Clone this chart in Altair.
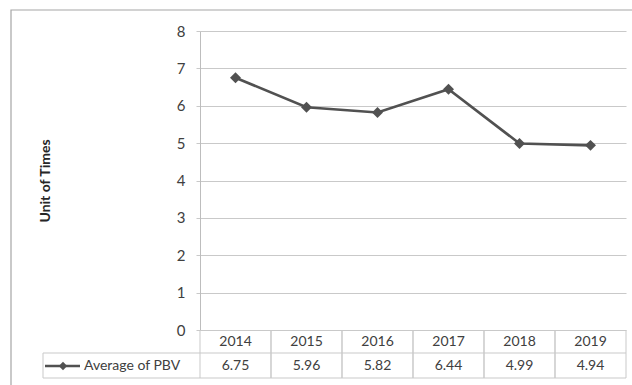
import altair as alt
import pandas as pd

years = ["2014", "2015", "2016", "2017", "2018", "2019"]
pbv = [6.75, 5.96, 5.82, 6.44, 4.99, 4.94]
series_name = "Average of PBV"
y_title = "Unit of Times"
y_ticks = [0, 1, 2, 3, 4, 5, 6, 7, 8]

df = pd.DataFrame({"year": years, "pbv": pbv, "label": [f"{v:.2f}" for v in pbv]})
one = pd.DataFrame({"k": [0]})

W, H = 426, 299
FONT = "Lato"
GRID = "#c9c9c9"
LINE = "#515151"
TXT = "#404040"

xs = alt.Scale(domain=years, paddingInner=0, paddingOuter=0)
ys = alt.Scale(domain=[0, 8], nice=False)
xenc = alt.X("year:O", scale=xs, axis=None)
yaxis = alt.Axis(
    values=y_ticks,
    title=y_title,
    titleFont=FONT,
    titleFontSize=14,
    titleFontWeight="bold",
    titleColor="#262626",
    titleX=-148,
    titleY=H / 2,
    titleAngle=270,
    labelFont=FONT,
    labelFontSize=15,
    labelColor=TXT,
    labelPadding=11,
    tickSize=4,
    tickColor=GRID,
    domainColor="#bdbdbd",
    gridColor=GRID,
    grid=True,
)
yenc = alt.Y("pbv:Q", scale=ys, axis=yaxis)

base = alt.Chart(df)

line = base.mark_line(color=LINE, strokeWidth=2.6).encode(x=xenc, y=yenc)
points = base.mark_point(shape="diamond", filled=True, color=LINE, size=120, opacity=1).encode(
    x=xenc, y=yenc
)

# outer frame
frame = alt.Chart(one).mark_rect(fill=None, stroke="#a6a6a6", strokeWidth=1.2).encode(
    x=alt.value(-189), x2=alt.value(460), y=alt.value(-21), y2=alt.value(400)
)

# table lines
vlines_l = base.mark_rule(color=GRID).encode(
    x=alt.X("year:O", scale=xs, axis=None, bandPosition=0),
    y=alt.value(H), y2=alt.value(H + 48),
)
vlines_r = base.mark_rule(color=GRID).encode(
    x=alt.X("year:O", scale=xs, axis=None, bandPosition=1),
    y=alt.value(H), y2=alt.value(H + 48),
)
h1 = alt.Chart(one).mark_rule(color=GRID).encode(
    x=alt.value(-157), x2=alt.value(W), y=alt.value(H + 23)
)
h2 = alt.Chart(one).mark_rule(color=GRID).encode(
    x=alt.value(-157), x2=alt.value(W), y=alt.value(H + 48)
)
vleft = alt.Chart(one).mark_rule(color=GRID).encode(
    x=alt.value(-157), y=alt.value(H + 23), y2=alt.value(H + 48)
)

year_txt = base.mark_text(font=FONT, fontSize=14, color=TXT, baseline="middle").encode(
    x=xenc, y=alt.value(H + 12), text="year:N"
)
val_txt = base.mark_text(font=FONT, fontSize=14, color=TXT, baseline="middle").encode(
    x=xenc, y=alt.value(H + 36), text="label:N"
)

leg_line = alt.Chart(one).mark_rule(color=LINE, strokeWidth=2.6).encode(
    x=alt.value(-155), x2=alt.value(-120), y=alt.value(H + 36)
)
leg_pt = alt.Chart(one).mark_point(shape="diamond", filled=True, color=LINE, size=70, opacity=1).encode(
    x=alt.value(-137), y=alt.value(H + 36)
)
leg_txt = alt.Chart(pd.DataFrame({"t": [series_name]})).mark_text(
    font=FONT, fontSize=14, color=TXT, align="left", baseline="middle"
).encode(x=alt.value(-116), y=alt.value(H + 36), text="t:N")

chart = (
    alt.layer(frame, line, points, vlines_l, vlines_r, h1, h2, vleft,
              year_txt, val_txt, leg_line, leg_pt, leg_txt)
    .properties(
        width=W,
        height=H,
        autosize=alt.AutoSizeParams(type="none"),
        padding={"left": 200, "top": 31, "right": 6, "bottom": 55},
        background="white",
    )
    .configure_view(stroke=None)
)

chart.save("out.html", embed_options={"renderer": "svg", "actions": False})
